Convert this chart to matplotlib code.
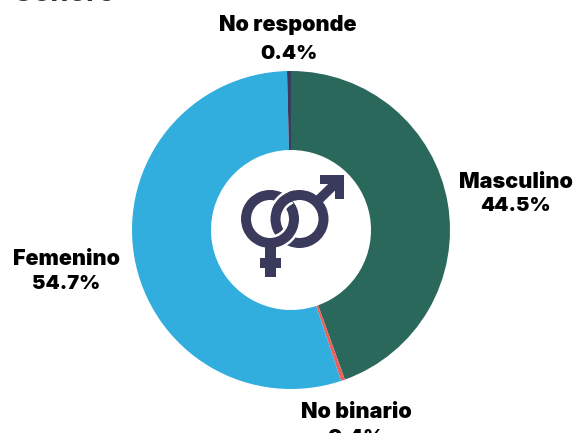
import numpy as np
import matplotlib
matplotlib.use("Agg")
import matplotlib.pyplot as plt
from matplotlib.patches import Wedge, Rectangle, Polygon

categories = ['Masculino', 'No binario', 'Femenino', 'No responde']
values = [44.5, 0.4, 54.7, 0.4]
colors = ['#2B685C', '#EE5F5B', '#31AEDE', '#3A3A5C']
NAVY = '#3A3A5C'

plt.rcParams['font.family'] = ['Inter', 'DejaVu Sans']

W, H = 574, 433
fig = plt.figure(figsize=(W / 100, H / 100), dpi=100)
ax = fig.add_axes([0, 0, 1, 1])

def fy(y):  # y desde arriba, en pixeles
    return H - y

ax.pie(values, colors=colors, startangle=90, counterclock=False,
       center=(291, fy(230)), radius=159,
       wedgeprops=dict(width=79, linewidth=0), frame=False)
ax.set_xlim(0, W)
ax.set_ylim(0, H)
ax.set_aspect('equal')
ax.axis('off')

# icono
fc = (270, fy(219))
mc = (299.5, fy(219))
R = 29
band = 10
gap = 2.5

# tallo y cruz del simbolo femenino
ax.add_patch(Rectangle((265, fy(277)), 10.5, 32, fc=NAVY, lw=0, zorder=6))
ax.add_patch(Rectangle((260, fy(268)), 21, 10, fc=NAVY, lw=0, zorder=6))

# flecha del simbolo masculino
ang = np.deg2rad(45)
ax.plot([mc[0] + (R - 2) * np.cos(ang), 337], [mc[1] + (R - 2) * np.sin(ang), fy(182)],
        color=NAVY, lw=6.8, solid_capstyle='butt', zorder=3)
ax.add_patch(Polygon([(320, fy(175)), (344, fy(175)), (344, fy(199)), (335, fy(199)),
                      (335, fy(184)), (320, fy(184))], closed=True, fc=NAVY, lw=0, zorder=3))

ax.add_patch(Wedge(mc, R, 0, 360, width=band, fc=NAVY, lw=0, zorder=4))
ax.add_patch(Wedge(fc, R + gap, 0, 360, width=band + 2 * gap, fc='white', lw=0, zorder=5))
ax.add_patch(Wedge(fc, R, 0, 360, width=band, fc=NAVY, lw=0, zorder=6))
# el anillo masculino pasa por encima en el cruce de arriba
ax.add_patch(Wedge(mc, R + gap, 112, 148, width=band + 2 * gap, fc='white', lw=0, zorder=7))
ax.add_patch(Wedge(mc, R, 100, 160, width=band, fc=NAVY, lw=0, zorder=8))

# textos
ax.text(12, fy(1), 'Género', fontsize=21, fontweight='bold', color='#333333', ha='left', va='baseline')

lab = dict(fontsize=15.5, fontweight='black', color='black', ha='center', va='center')
pct = dict(lab, fontsize=14.5)
ax.text(288, fy(25), categories[3], **lab)
ax.text(289, fy(54), '%.1f%%' % values[3], **pct)
ax.text(515.5, fy(182), categories[0], **lab)
ax.text(515.5, fy(206), '%.1f%%' % values[0], **pct)
ax.text(66.5, fy(259), categories[2], **lab)
ax.text(66.5, fy(284), '%.1f%%' % values[2], **pct)
ax.text(356, fy(412), categories[1], **lab)
ax.text(356, fy(438), '%.1f%%' % values[1], clip_on=True, **pct)

fig.savefig('out.png', dpi=100)
